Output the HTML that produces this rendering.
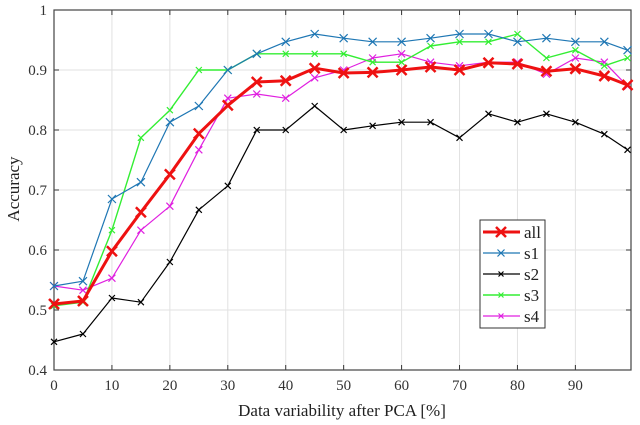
<!DOCTYPE html>
<html><head><meta charset="utf-8"><style>
body{margin:0;background:#fff;}
svg{display:block;font-family:"Liberation Serif",serif;}
</style></head><body>
<svg id="chart" width="640" height="425" viewBox="0 0 640 425" xmlns="http://www.w3.org/2000/svg">
<g id="grid"></g>
<g id="axes"></g>
<g id="series"></g>
<text x="342" y="416" font-size="17" text-anchor="middle" fill="#222">Data variability after PCA [%]</text>
<text transform="translate(19,189) rotate(-90)" font-size="17" text-anchor="middle" fill="#222">Accuracy</text>
<g id="legend"></g>
</svg>
<script>
const xValues=[0,5,10,15,20,25,30,35,40,45,50,55,60,65,70,75,80,85,90,95,99];
const seriesNames=["all","s1","s2","s3","s4"];
const allValues=[0.51,0.515,0.598,0.663,0.726,0.794,0.841,0.88,0.882,0.903,0.895,0.896,0.9,0.905,0.9,0.912,0.91,0.898,0.902,0.89,0.875];
const s1Values=[0.54,0.548,0.685,0.713,0.813,0.84,0.9,0.927,0.947,0.96,0.953,0.947,0.947,0.953,0.96,0.96,0.947,0.953,0.947,0.947,0.933];
const s2Values=[0.447,0.46,0.52,0.513,0.58,0.667,0.707,0.8,0.8,0.84,0.8,0.807,0.813,0.813,0.787,0.827,0.813,0.827,0.813,0.793,0.767];
const s3Values=[0.507,0.513,0.633,0.787,0.833,0.9,0.9,0.927,0.927,0.927,0.927,0.913,0.913,0.94,0.947,0.947,0.96,0.92,0.933,0.907,0.92];
const s4Values=[0.54,0.533,0.553,0.633,0.673,0.767,0.853,0.86,0.853,0.887,0.9,0.92,0.927,0.913,0.907,0.913,0.913,0.893,0.92,0.913,0.873];
const xTicks=[0,10,20,30,40,50,60,70,80,90];
const yTicks=[0.4,0.5,0.6,0.7,0.8,0.9,1];
const yTickLabels=["0.4","0.5","0.6","0.7","0.8","0.9","1"];

const L=54,R=631,T=10,B=370,XMAX=99.6;
const sx=v=>L+(v/XMAX)*(R-L);
const sy=v=>B-(v-0.4)/0.6*(B-T);
const NS="http://www.w3.org/2000/svg";
function mk(tag,attrs,parent){const e=document.createElementNS(NS,tag);for(const k in attrs)e.setAttribute(k,attrs[k]);parent.appendChild(e);return e;}
const grid=document.getElementById('grid'),axes=document.getElementById('axes'),ser=document.getElementById('series'),leg=document.getElementById('legend');

xTicks.forEach(t=>{
  const g=mk('line',{x1:sx(t),x2:sx(t),y1:T,y2:B,stroke:'#e2e2e2','stroke-width':1},grid);
  
  
  mk('line',{x1:sx(t),x2:sx(t),y1:B,y2:B-5,stroke:'#333'},axes);
  mk('line',{x1:sx(t),x2:sx(t),y1:T,y2:T+5,stroke:'#333'},axes);
  const tx=mk('text',{x:sx(t),y:B+20,'font-size':15,'text-anchor':'middle',fill:'#333'},axes);
  tx.textContent=t;
  
  
});
yTicks.forEach((t,i)=>{
  const g=mk('line',{x1:L,x2:R,y1:sy(t),y2:sy(t),stroke:'#e2e2e2','stroke-width':1},grid);
  
  
  mk('line',{x1:L,x2:L+5,y1:sy(t),y2:sy(t),stroke:'#333'},axes);
  mk('line',{x1:R,x2:R-5,y1:sy(t),y2:sy(t),stroke:'#333'},axes);
  const tx=mk('text',{x:L-7,y:sy(t)+5,'font-size':15,'text-anchor':'end',fill:'#333'},axes);
  tx.textContent=yTickLabels[i];
  
  
});
mk('rect',{x:L,y:T,width:R-L,height:B-T,fill:'none',stroke:'#444','stroke-width':1.2},axes);

const cfg=[
 {d:s2Values,c:'#000',w:1.2,m:3,name:'s2'},
 {d:s4Values,c:'#e020e0',w:1.2,m:3.5,name:'s4'},
 {d:s3Values,c:'#33ee33',w:1.4,m:3,name:'s3'},
 {d:s1Values,c:'#1f77b4',w:1.2,m:4,name:'s1'},
 {d:allValues,c:'#ee1111',w:3,m:5,name:'all'}
];
function marker(x,y,s,c,w,p){
  mk('path',{d:`M${x-s},${y-s}L${x+s},${y+s}M${x-s},${y+s}L${x+s},${y-s}`,stroke:c,'stroke-width':w,fill:'none'},p);
}
cfg.forEach(s=>{
  const g=mk('g',{},ser);
  
  
  const pts=s.d.map((v,i)=>sx(xValues[i])+','+sy(v)).join(' ');
  mk('polyline',{points:pts,fill:'none',stroke:s.c,'stroke-width':s.w,'stroke-linejoin':'round'},g);
  s.d.forEach((v,i)=>marker(sx(xValues[i]),sy(v),s.m,s.c,s.name==='all'?2.5:1.2,g));
});

mk('rect',{x:480,y:220,width:65,height:108,fill:'#fff',stroke:'#333','stroke-width':1},leg);
const legCfg=[['all','#ee1111',3,5],['s1','#1f77b4',1.2,3.5],['s2','#000',1.2,2.5],['s3','#33ee33',1.4,2.5],['s4','#e020e0',1.2,2.5]];
legCfg.forEach((e,i)=>{
  const y=232+i*21;
  const g=mk('g',{},leg);
  
  
  mk('line',{x1:483,x2:520,y1:y,y2:y,stroke:e[1],'stroke-width':e[2]},g);
  marker(501,y,e[3],e[1],e[0]==='all'?2.5:1.2,g);
  const t=mk('text',{x:524,y:y+6,'font-size':17,fill:'#222'},g);
  t.textContent=e[0];
});
</script>
</body></html>
